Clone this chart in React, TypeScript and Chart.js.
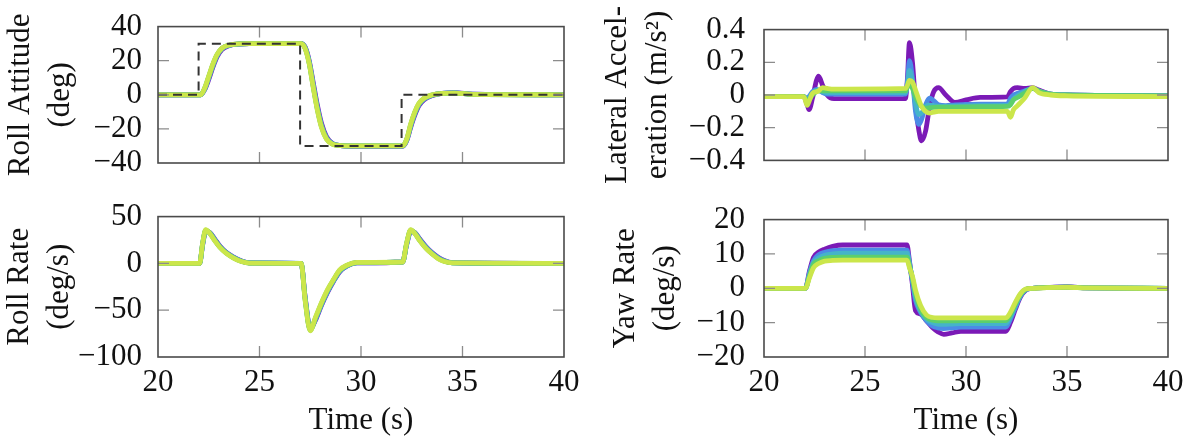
import React, { useEffect, useRef } from "react";
import { Chart, registerables } from "chart.js";
Chart.register(...registerables);

const FONT = "'Liberation Serif', 'Times New Roman', Times, 'DejaVu Serif', serif";

// colours, drawn top (yellow-green) to bottom (purple)
const colorYellow = "#cbe64b";
const colorGreen = "#5ccf6c";
const colorTeal = "#45b4c9";
const colorBlue = "#4b8be6";
const colorPurple = "#7b1ab6";

const timeTicks = [20, 25, 30, 35, 40];
const attTicks = [-40, -20, 0, 20, 40];
const rateTicks = [-100, -50, 0, 50];
const latTicks = [-0.4, -0.2, 0, 0.2, 0.4];
const yawTicks = [-20, -10, 0, 10, 20];

// ---- Roll attitude (deg) ----
const tAtt = [20, 22.1, 22.3, 22.5, 22.7, 22.9, 23.15, 23.5, 24.0, 24.5, 27.05, 27.25, 27.45, 27.65, 27.85, 28.05, 28.3, 28.6, 29.0, 29.5, 32.05, 32.25, 32.45, 32.65, 32.85, 33.1, 33.5, 34.0, 34.6, 35.5, 40];
const attYellow = [0, 0, 4, 11, 18, 23.5, 27.4, 29.2, 29.9, 30, 30, 27, 18, 4, -9, -19, -26, -29, -29.8, -30, -30, -26, -17, -10, -5, -2, 0, 0.8, 1, 0.3, 0];
const attGreen = [0, 0, 3.8, 10.7, 17.7, 23.3, 27.3, 29.1, 29.9, 30, 30, 27.2, 18.4, 4.5, -8.5, -18.6, -25.8, -28.9, -29.8, -30, -30, -26.2, -17.4, -10.3, -5.2, -2.1, -0.1, 0.8, 1, 0.3, 0];
const attTeal = [0, 0, 3.6, 10.4, 17.4, 23.1, 27.2, 29.1, 29.9, 30, 30, 27.4, 18.8, 5, -8, -18.2, -25.6, -28.8, -29.8, -30, -30, -26.4, -17.8, -10.6, -5.5, -2.3, -0.2, 0.8, 1.05, 0.3, 0];
const attBlue = [0, 0, 3.3, 9.8, 16.8, 22.7, 27, 29, 29.8, 30, 30, 27.6, 19.3, 5.8, -7.3, -17.6, -25.2, -28.7, -29.8, -30.1, -30.1, -26.6, -18.3, -11.1, -5.9, -2.6, -0.3, 0.8, 1.1, 0.35, 0];
const attPurple = [0, 0, 3, 9, 16, 22, 26.5, 28.8, 29.8, 30, 30, 28, 20, 7, -6, -16.5, -24.5, -28.5, -29.8, -30.2, -30.2, -27, -19, -12, -6.5, -3, -0.5, 0.8, 1.2, 0.4, 0];
const attRefT = [20, 22, 22, 27, 27, 32, 32, 40];
const attRefV = [0, 0, 30, 30, -30, -30, 0, 0];

// ---- Roll rate (deg/s) ----
const tRate = [20, 22.05, 22.2, 22.35, 22.55, 22.8, 23.05, 23.35, 23.7, 24.1, 24.5, 27.05, 27.25, 27.5, 27.75, 28.05, 28.35, 28.65, 28.95, 29.3, 29.8, 32.05, 32.25, 32.45, 32.65, 32.9, 33.2, 33.5, 33.8, 34.1, 34.5, 40];
const rateYellow = [0, 0, 22, 36, 32, 24, 17, 11, 6, 2, 0.3, 0, -40, -72, -58, -42, -28, -17, -7, -2, 1, 1.5, 22, 36, 32, 24, 16, 10, 5, 2, 0.5, 0];
const rateGreen = [0, 0, 21.5, 35.6, 32.3, 24.4, 17.3, 11.2, 6.2, 2.2, 0.4, 0, -39, -71.5, -58.8, -42.8, -28.8, -17.6, -7.5, -2.3, 0.9, 1.5, 21.5, 35.6, 32.3, 24.4, 16.4, 10.3, 5.3, 2.2, 0.6, 0];
const rateTeal = [0, 0, 21, 35.2, 32.5, 24.9, 17.6, 11.5, 6.5, 2.4, 0.45, 0, -38, -71, -59.5, -43.5, -29.5, -18.1, -8, -2.5, 0.8, 1.5, 21, 35.2, 32.5, 24.8, 16.8, 10.6, 5.7, 2.5, 0.6, 0];
const rateBlue = [0, 0, 20.5, 34.7, 32.8, 25.4, 18, 11.8, 6.8, 2.6, 0.5, 0, -37, -70.5, -60.2, -44.2, -30.2, -18.6, -8.5, -2.8, 0.6, 1.5, 20.5, 34.7, 32.8, 25.3, 17.3, 11, 6.1, 2.7, 0.7, 0];
const ratePurple = [0, 0, 20, 34, 33, 26, 18.5, 12, 7, 2.8, 0.6, 0, -36, -70, -61, -45, -31, -19, -9, -3, 0.5, 1.5, 20, 34, 33, 26, 18, 11.5, 6.5, 3, 0.8, 0];

// ---- Lateral acceleration (m/s^2) ----
const tLat = [20, 21.97, 22.14, 22.23, 22.4, 22.6, 22.7, 22.9, 23.13, 23.46, 27.0, 27.1, 27.2, 27.35, 27.5, 27.67, 27.8, 28.0, 28.2, 28.4, 28.64, 29.0, 29.45, 30.0, 30.7, 32.05, 32.2, 32.35, 32.55, 32.9, 33.3, 33.6, 34.2, 35, 40];
const latPurple = [-0.01, -0.01, -0.06, -0.09, -0.02, 0.09, 0.115, 0.06, 0.0, -0.022, -0.022, 0.1, 0.32, 0.2, -0.05, -0.22, -0.28, -0.22, -0.07, 0.02, 0.045, 0.0, -0.045, -0.03, -0.015, -0.012, 0.02, 0.04, 0.045, 0.04, 0.045, 0.03, 0.005, 0, -0.005];
const latBlue = [-0.01, -0.01, -0.02, -0.01, 0.02, 0.035, 0.03, 0.015, 0.005, 0.005, 0.005, 0.08, 0.21, 0.1, -0.1, -0.18, -0.15, -0.06, -0.02, -0.035, -0.06, -0.065, -0.06, -0.058, -0.056, -0.055, -0.02, 0.0, 0.01, 0.025, 0.04, 0.025, 0.005, 0, -0.005];
const latTeal = [-0.01, -0.01, -0.03, -0.02, 0.01, 0.03, 0.03, 0.02, 0.015, 0.015, 0.015, 0.06, 0.15, 0.08, -0.05, -0.12, -0.11, -0.07, -0.06, -0.065, -0.07, -0.07, -0.068, -0.066, -0.065, -0.064, -0.05, -0.025, -0.005, 0.02, 0.04, 0.025, 0.005, 0, -0.005];
const latGreen = [-0.01, -0.01, -0.04, -0.03, 0.0, 0.02, 0.025, 0.025, 0.025, 0.025, 0.025, 0.05, 0.07, 0.04, -0.01, -0.05, -0.07, -0.08, -0.078, -0.076, -0.075, -0.075, -0.074, -0.073, -0.072, -0.07, -0.06, -0.03, -0.015, 0.01, 0.04, 0.025, 0.005, 0, -0.005];
const latYellow = [-0.01, -0.01, -0.064, -0.04, 0.01, 0.02, 0.025, 0.045, 0.04, 0.036, 0.04, 0.06, 0.09, 0.08, 0.03, -0.03, -0.07, -0.1, -0.11, -0.105, -0.1, -0.1, -0.1, -0.1, -0.1, -0.1, -0.136, -0.09, -0.065, -0.02, 0.045, 0.015, 0.0, -0.005, -0.01];

// ---- Yaw rate (deg/s) ----
const tYaw = [20, 22.05, 22.25, 22.45, 22.7, 23.0, 23.4, 23.9, 27.08, 27.2, 27.35, 27.5, 27.75, 28.05, 28.35, 28.6, 28.9, 29.3, 29.75, 31.97, 32.2, 32.45, 32.7, 32.95, 33.3, 34.0, 35.0, 36.0, 40];
const yawPurple = [0, 0, 5, 9, 10.5, 11.4, 12.2, 12.6, 12.6, 8, 1, -6.5, -7.5, -9.5, -11.5, -12.6, -13.4, -13, -12.5, -12.5, -10, -6, -2.5, -0.6, 0, 0.2, 0.5, 0.1, 0];
const yawBlue = [0, 0, 4.5, 8, 9.7, 10.5, 11, 11.1, 11.1, 7.5, 2, -3.5, -7, -9.5, -11, -11.5, -11.7, -11.5, -11.3, -11.3, -9, -5.5, -2.2, -0.5, 0, 0.2, 0.4, 0.1, 0];
const yawTeal = [0, 0, 4, 7.5, 8.8, 9.6, 10.0, 10.2, 10.2, 7, 2.5, -2.5, -6.5, -9, -10, -10.4, -10.5, -10.4, -10.3, -10.3, -8.3, -5, -2, -0.4, 0, 0.2, 0.3, 0.1, 0];
const yawGreen = [0, 0, 3.5, 7, 8, 8.7, 9, 9.1, 9.1, 6.5, 3, -1.5, -6, -8.5, -9.3, -9.5, -9.5, -9.5, -9.4, -9.4, -7.6, -4.5, -1.8, -0.3, 0, 0.2, 0.3, 0.1, 0];
const yawYellow = [0, 0, 3, 6, 7.2, 7.9, 8.1, 8.2, 8.2, 6, 3.5, -0.5, -5, -7.8, -8.5, -8.6, -8.6, -8.6, -8.6, -8.6, -7, -4, -1.5, -0.2, 0, 0.2, 0.3, 0.1, 0];

const pts = (t: number[], v: number[]) => t.map((x, i) => ({ x, y: v[i] }));
const fmt = (v: number) => (v < 0 ? "\u2212" + String(Math.abs(v)) : String(v));

const series = (t: number[], ys: number[][]) => {
  const cols = [colorYellow, colorGreen, colorTeal, colorBlue, colorPurple];
  return ys.map((v, i) => ({
    data: pts(t, v),
    borderColor: cols[i],
    borderWidth: 4.8,
    pointRadius: 0,
    fill: false,
    cubicInterpolationMode: "monotone" as const,
  }));
};

const framePlugin = {
  id: "pgfFrame",
  afterDatasetsDraw(chart: any) {
    const { ctx, chartArea: a, scales } = chart;
    const tl = 11;
    ctx.save();
    ctx.strokeStyle = "#8c8c8c";
    ctx.lineWidth = 1.3;
    ctx.beginPath();
    for (const tk of scales.x.ticks) {
      const x = scales.x.getPixelForValue(tk.value);
      if (x <= a.left + 1 || x >= a.right - 1) continue;
      ctx.moveTo(x, a.top); ctx.lineTo(x, a.top + tl);
      ctx.moveTo(x, a.bottom); ctx.lineTo(x, a.bottom - tl);
    }
    for (const tk of scales.y.ticks) {
      const y = scales.y.getPixelForValue(tk.value);
      if (y <= a.top + 1 || y >= a.bottom - 1) continue;
      ctx.moveTo(a.left, y); ctx.lineTo(a.left + tl, y);
      ctx.moveTo(a.right, y); ctx.lineTo(a.right - tl, y);
    }
    ctx.stroke();
    ctx.strokeStyle = "#4a4a4a";
    ctx.lineWidth = 1.6;
    ctx.strokeRect(a.left, a.top, a.right - a.left, a.bottom - a.top);
    ctx.restore();
  },
};

type PanelProps = {
  left: number; top: number; width: number; height: number;
  datasets: any[];
  yMin: number; yMax: number; yTicks: number[];
  yTitle: string[]; yTitlePad: number; yWidth: number; yTickPad: number;
  padTop: number; padRight: number; xHeight: number; showX: boolean;
};

function Panel(p: PanelProps) {
  const ref = useRef<HTMLCanvasElement | null>(null);
  useEffect(() => {
    const tickFont = { family: FONT, size: 31, lineHeight: 1.2 };
    const titleFont = { family: FONT, size: 31, lineHeight: 1.28 };
    const xTitleFont = { family: FONT, size: 31, lineHeight: 1.0 };
    const chart = new Chart(ref.current as HTMLCanvasElement, {
      type: "line",
      data: { datasets: p.datasets },
      options: {
        animation: false,
        responsive: false,
        devicePixelRatio: 1,
        layout: { padding: { left: 0, right: p.padRight, top: p.padTop, bottom: 0 } },
        plugins: { legend: { display: false }, tooltip: { enabled: false } },
        elements: { point: { radius: 0 } },
        scales: {
          x: {
            type: "linear",
            min: 20,
            max: 40,
            afterBuildTicks: (s: any) => { s.ticks = timeTicks.map((v) => ({ value: v })); },
            afterFit: (s: any) => { s.height = p.xHeight; },
            grid: { display: false },
            border: { display: false },
            ticks: { display: p.showX, font: tickFont, color: "#111", padding: -1, maxRotation: 0, autoSkip: false, callback: (v: any) => fmt(Number(v)) },
            title: { display: p.showX, text: "Time (s)", font: xTitleFont, color: "#111", padding: { top: 0, bottom: 5 } },
          },
          y: {
            type: "linear",
            min: p.yMin,
            max: p.yMax,
            afterBuildTicks: (s: any) => { s.ticks = p.yTicks.map((v) => ({ value: v })); },
            afterFit: (s: any) => { s.width = p.yWidth; },
            grid: { display: false },
            border: { display: false },
            ticks: { font: tickFont, color: "#111", padding: p.yTickPad, autoSkip: false, callback: (v: any) => fmt(Number(v)) },
            title: { display: true, text: p.yTitle, font: titleFont, color: "#111", padding: { top: p.yTitlePad, bottom: 0 } },
          },
        },
      } as any,
      plugins: [framePlugin],
    });
    return () => chart.destroy();
  }, []);
  return (
    <div style={{ position: "absolute", left: p.left, top: p.top, width: p.width, height: p.height }}>
      <canvas ref={ref} width={p.width} height={p.height} style={{ width: p.width, height: p.height, display: "block" }} />
    </div>
  );
}

export default function App() {
  const attDatasets = [
    {
      data: pts(attRefT, attRefV),
      borderColor: "#333",
      borderWidth: 2,
      borderDash: [9, 6],
      pointRadius: 0,
      tension: 0,
      fill: false,
    },
    ...series(tAtt, [attYellow, attGreen, attTeal, attBlue, attPurple]),
  ];
  const rateDatasets = series(tRate, [rateYellow, rateGreen, rateTeal, rateBlue, ratePurple]);
  const latDatasets = series(tLat, [latYellow, latGreen, latTeal, latBlue, latPurple]);
  const yawDatasets = series(tYaw, [yawYellow, yawGreen, yawTeal, yawBlue, yawPurple]);

  return (
    <div style={{ position: "fixed", left: 0, top: 0, width: 1185, height: 441, background: "#fff", overflow: "hidden" }}>
      <Panel left={0} top={0} width={590} height={190} datasets={attDatasets}
        yMin={-40} yMax={40} yTicks={attTicks} yTitle={["Roll Attitude", "(deg)"]} yTitlePad={1}
        yWidth={158} yTickPad={8} padTop={17} padRight={26} xHeight={27} showX={false} />
      <Panel left={0} top={190} width={590} height={251} datasets={rateDatasets}
        yMin={-100} yMax={50} yTicks={rateTicks} yTitle={["Roll Rate", "(deg/s)"]} yTitlePad={0}
        yWidth={158} yTickPad={8} padTop={22} padRight={26} xHeight={84} showX={true} />
      <Panel left={590} top={0} width={595} height={190} datasets={latDatasets}
        yMin={-0.4} yMax={0.4} yTicks={latTicks} yTitle={["Lateral Accel-", "eration (m/s\u00B2)"]} yTitlePad={8}
        yWidth={174} yTickPad={11} padTop={17} padRight={17} xHeight={27} showX={false} />
      <Panel left={590} top={190} width={595} height={251} datasets={yawDatasets}
        yMin={-20} yMax={20} yTicks={yawTicks} yTitle={["Yaw Rate", "(deg/s)"]} yTitlePad={16}
        yWidth={174} yTickPad={11} padTop={22} padRight={17} xHeight={84} showX={true} />
    </div>
  );
}
